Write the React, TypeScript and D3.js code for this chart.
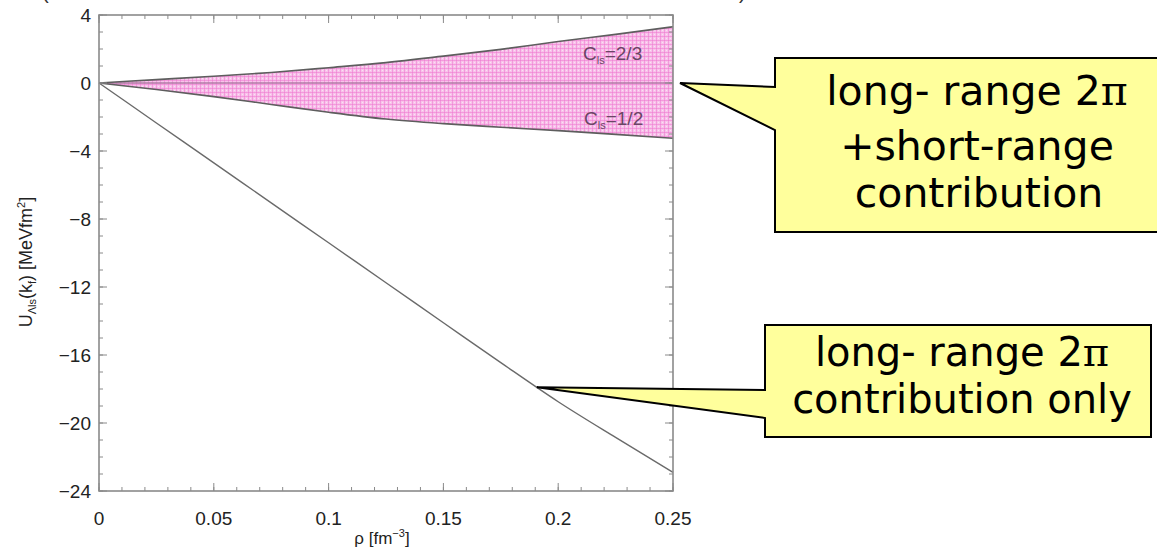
import React from "react";
import * as d3 from "d3";

// density grid (fm^-3)
const rho = [0, 0.025, 0.05, 0.075, 0.1, 0.125, 0.15, 0.175, 0.2, 0.225, 0.25];
// long-range 2π + short-range, C_ls = 2/3 (upper edge of band)
const upperCls23 = [0, 0.2, 0.4, 0.62, 0.9, 1.2, 1.58, 1.98, 2.44, 2.86, 3.31];
// long-range 2π + short-range, C_ls = 1/2 (lower edge of band)
const lowerCls12 = [0, -0.38, -0.8, -1.26, -1.72, -2.12, -2.39, -2.6, -2.8, -3.02, -3.25];
// long-range 2π contribution only
const longRangeOnly = [0, -2.35, -4.7, -7.05, -9.4, -11.75, -14.1, -16.45, -18.75, -20.85, -22.9];

const xTicks = [0, 0.05, 0.1, 0.15, 0.2, 0.25];
const xTickLabels = ["0", "0.05", "0.1", "0.15", "0.2", "0.25"];
const yTicks = [4, 0, -4, -8, -12, -16, -20, -24];
const yTickLabels = ["4", "0", "\u22124", "\u22128", "\u221212", "\u221216", "\u221220", "\u221224"];

const W = 1157;
const H = 550;
const left = 99;
const right = 673;
const top = 15;
const bottom = 491;

export default function App() {
  const x = d3.scaleLinear().domain([0, 0.25]).range([left, right]);
  const y = d3.scaleLinear().domain([-24, 4]).range([bottom, top]);

  const band = d3
    .area<number>()
    .x((_, i) => x(rho[i]))
    .y0((_, i) => y(lowerCls12[i]))
    .y1((_, i) => y(upperCls23[i]))
    .curve(d3.curveMonotoneX);
  const line = (vals: number[]) =>
    d3
      .line<number>()
      .x((_, i) => x(rho[i]))
      .y((v) => y(v))
      .curve(d3.curveMonotoneX)(vals) || "";

  const xMinor = d3.range(0, 0.2501, 0.01);
  const yMinor = d3.range(-24, 4.01, 1);
  const axisColor = "#8a8a8a";
  const tickFont = "'Liberation Sans', Arial, Helvetica, sans-serif";
  const calloutFont = "'DejaVu Sans', Verdana, sans-serif";
  const piFont = "'DejaVu Serif', 'Liberation Serif', serif";

  return (
    <div style={{ position: "absolute", left: 0, top: 0 }}>
      <svg width={W} height={H} viewBox={`0 0 ${W} ${H}`} style={{ display: "block", background: "#fff" }}>
        <defs>
          <pattern id="hatch" width="4" height="4" patternUnits="userSpaceOnUse">
            <rect width="4" height="4" fill="#f8c2ea" />
            <path d="M0 0 H4 M0 0 V4" stroke="#ef72cf" strokeWidth="1" />
            <rect x="2" y="2" width="1" height="1" fill="#fbe0f4" />
          </pattern>
        </defs>

        {/* cut-off title fragments along the top edge */}
        <text x={42} y={-1} fontFamily={tickFont} fontSize={20} fill="#333">(</text>
        <text x={739} y={-1} fontFamily={tickFont} fontSize={20} fill="#333">)</text>

        {/* band between C_ls = 1/2 and C_ls = 2/3 */}
        <path d={band(rho) || ""} fill="url(#hatch)" />
        <line x1={x(0)} x2={x(0.25)} y1={y(0)} y2={y(0)} stroke="#b27aa6" strokeWidth={1.3} />
        <path d={line(upperCls23)} fill="none" stroke="#5e5e5e" strokeWidth={1.6} />
        <path d={line(lowerCls12)} fill="none" stroke="#5e5e5e" strokeWidth={1.6} />
        <path d={line(longRangeOnly)} fill="none" stroke="#6a6a6a" strokeWidth={1.4} />

        {/* band labels */}
        <text x={583} y={60} fontFamily={tickFont} fontSize={19} fill="#6a4565">
          C<tspan fontSize={11} dy={4}>ls</tspan>
          <tspan dy={-4}>=2/3</tspan>
        </text>
        <text x={584} y={125} fontFamily={tickFont} fontSize={19} fill="#6a4565">
          C<tspan fontSize={11} dy={4}>ls</tspan>
          <tspan dy={-4}>=1/2</tspan>
        </text>

        {/* frame */}
        <rect x={left} y={top} width={right - left} height={bottom - top} fill="none" stroke={axisColor} strokeWidth={1.6} />

        {/* x ticks, bottom and top, pointing inward */}
        {xMinor.map((t, i) => (
          <g key={"xm" + i} stroke={axisColor} strokeWidth={1}>
            <line x1={x(t)} x2={x(t)} y1={bottom} y2={bottom - 4} />
            <line x1={x(t)} x2={x(t)} y1={top} y2={top + 4} />
          </g>
        ))}
        {xTicks.map((t, i) => (
          <g key={"xM" + i} stroke={axisColor} strokeWidth={1}>
            <line x1={x(t)} x2={x(t)} y1={bottom} y2={bottom - 8} />
            <line x1={x(t)} x2={x(t)} y1={top} y2={top + 8} />
          </g>
        ))}
        {/* y ticks, left and right, pointing inward */}
        {yMinor.map((t, i) => (
          <g key={"ym" + i} stroke={axisColor} strokeWidth={1}>
            <line x1={left} x2={left + 4} y1={y(t)} y2={y(t)} />
            <line x1={right} x2={right - 4} y1={y(t)} y2={y(t)} />
          </g>
        ))}
        {yTicks.map((t, i) => (
          <g key={"yM" + i} stroke={axisColor} strokeWidth={1}>
            <line x1={left} x2={left + 8} y1={y(t)} y2={y(t)} />
            <line x1={right} x2={right - 8} y1={y(t)} y2={y(t)} />
          </g>
        ))}

        {/* tick labels */}
        {xTicks.map((t, i) => (
          <text key={"xl" + i} x={x(t)} y={525} textAnchor="middle" fontFamily={tickFont} fontSize={19} fill="#222">
            {xTickLabels[i]}
          </text>
        ))}
        {yTicks.map((t, i) => (
          <text key={"yl" + i} x={91} y={y(t) + 7} textAnchor="end" fontFamily={tickFont} fontSize={19} fill="#222">
            {yTickLabels[i]}
          </text>
        ))}

        {/* axis titles */}
        <text x={382} y={544} textAnchor="middle" fontFamily={tickFont} fontSize={17} fill="#222">
          ρ [fm<tspan fontSize={11} dy={-7}>−3</tspan>
          <tspan dy={7}>]</tspan>
        </text>
        <text transform="translate(32,262) rotate(-90)" textAnchor="middle" fontFamily={tickFont} fontSize={18} fill="#222">
          U<tspan fontSize={11} dy={4}>Λls</tspan>
          <tspan dy={-4}>(k</tspan>
          <tspan fontSize={11} dy={4}>f</tspan>
          <tspan dy={-4}>) [MeVfm</tspan>
          <tspan fontSize={11} dy={-7}>2</tspan>
          <tspan dy={7}>]</tspan>
        </text>

        {/* callout: long-range + short-range band */}
        <path
          d={`M775 58 H1160 V232 H775 V130 L${x(0.25) + 7} ${y(0)} L775 87 Z`}
          fill="#ffff9c"
          stroke="#000"
          strokeWidth={2}
        />
        <text fontFamily={calloutFont} fontSize={41} fill="#000" textAnchor="middle">
          <tspan x={977} y={105}>long- range 2</tspan>
          <tspan fontFamily={piFont}>π</tspan>
          <tspan x={977} y={160}>+short-range</tspan>
          <tspan x={979} y={207}>contribution</tspan>
        </text>

        {/* callout: long-range only line */}
        <path
          d={`M765 325 H1151 V437 H765 V418 L${x(0.1907)} ${y(-17.9)} L765 390 Z`}
          fill="#ffff9c"
          stroke="#000"
          strokeWidth={2}
        />
        <text fontFamily={calloutFont} fontSize={40} fill="#000" textAnchor="middle">
          <tspan x={962} y={366}>long- range 2</tspan>
          <tspan fontFamily={piFont}>π</tspan>
          <tspan x={962} y={413}>contribution only</tspan>
        </text>
      </svg>
    </div>
  );
}
